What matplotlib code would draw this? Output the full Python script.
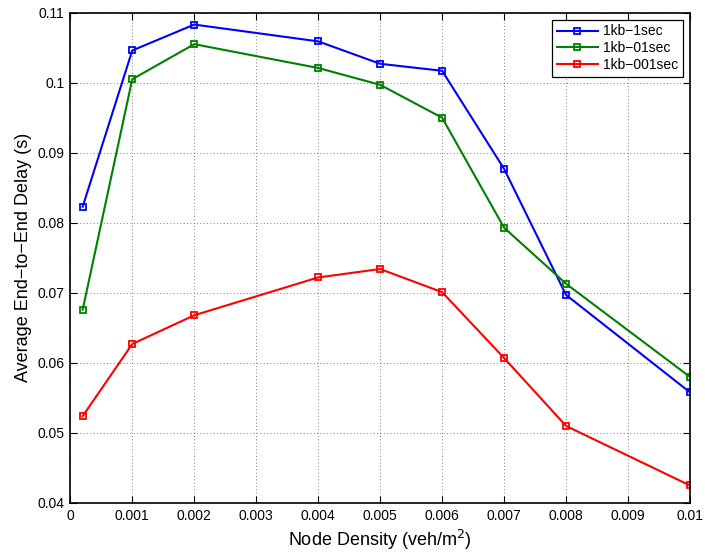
import matplotlib
matplotlib.use('Agg')
import matplotlib.pyplot as plt
from matplotlib.ticker import FuncFormatter, MultipleLocator

# node densities (veh/m^2) and average end-to-end delay (s) per traffic setting
density = [0.0002, 0.001, 0.002, 0.004, 0.005, 0.006, 0.007, 0.008, 0.01]
delay_1sec = [0.0823, 0.1046, 0.1083, 0.1059, 0.1027, 0.1017, 0.0877, 0.0697, 0.0558]
delay_01sec = [0.0676, 0.1005, 0.1055, 0.1021, 0.0997, 0.0950, 0.0793, 0.0713, 0.0580]
delay_001sec = [0.0524, 0.0627, 0.0668, 0.0722, 0.0734, 0.0701, 0.0607, 0.0510, 0.0425]
labels = ['1kb\u22121sec', '1kb\u221201sec', '1kb\u2212001sec']

plt.rcParams['font.family'] = ['Liberation Sans', 'DejaVu Sans']

fig = plt.figure(figsize=(7.05, 5.55), dpi=100)
ax = fig.add_axes([0.0997, 0.0937, 0.879, 0.8835])

series = [delay_1sec, delay_01sec, delay_001sec]
colors = ['#0000ff', '#008000', '#ff0000']
for vals, col, lab in zip(series, colors, labels):
    ax.plot(density, vals, color=col, lw=1.5, marker='s', markersize=5,
            markerfacecolor='none', markeredgecolor=col, markeredgewidth=1.3,
            label=lab)

ax.set_xlim(0, 0.01)
ax.set_ylim(0.04, 0.11)
ax.xaxis.set_major_locator(MultipleLocator(0.001))
ax.yaxis.set_major_locator(MultipleLocator(0.01))
fmt = FuncFormatter(lambda v, pos: f'{round(v, 4):g}')
ax.xaxis.set_major_formatter(fmt)
ax.yaxis.set_major_formatter(fmt)

ax.grid(True, linestyle=(0, (1, 3)), color='#555555', linewidth=0.6)
ax.tick_params(direction='in', top=True, right=True, length=5, width=0.8,
               labelsize=10, pad=4, colors='black')
for sp in ax.spines.values():
    sp.set_linewidth(1.2)

ax.set_xlabel('Node Density (veh/m$^2$)', fontsize=13, labelpad=4)
ax.set_ylabel('Average End\u2212to\u2212End Delay (s)', fontsize=13, labelpad=4)

leg = ax.legend(loc='upper right', fontsize=10, numpoints=1, handlelength=3,
                handletextpad=0.35, fancybox=False, edgecolor='black',
                framealpha=1, borderaxespad=0.5, labelspacing=0.2,
                borderpad=0.35)
leg.get_frame().set_linewidth(0.9)

fig.savefig('out.png', dpi=100)
